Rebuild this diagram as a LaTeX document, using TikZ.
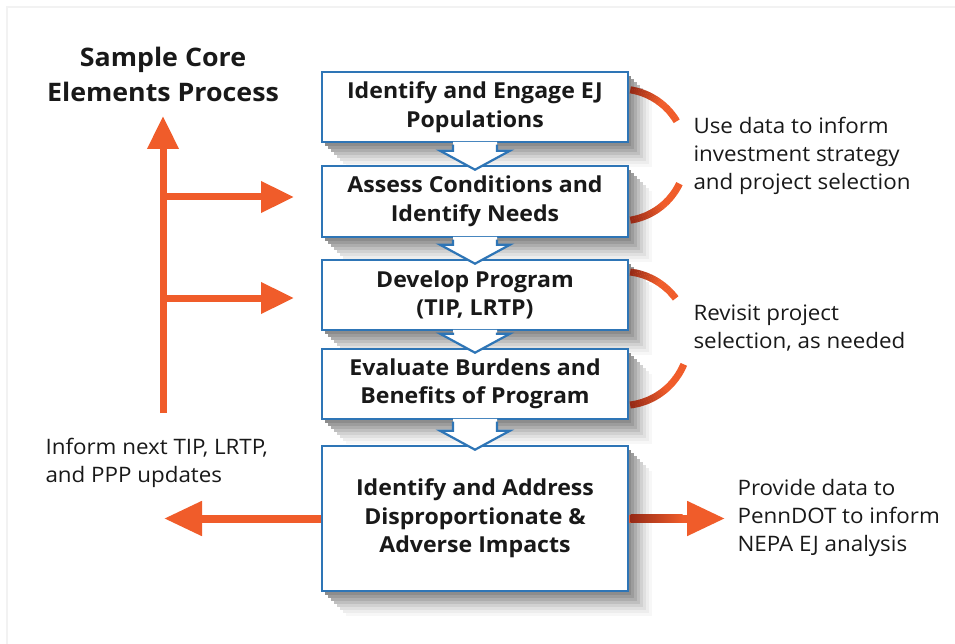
\documentclass[tikz,border=0pt]{standalone}
\usepackage{fontspec}
\setmainfont{Open Sans}[FakeStretch=1.05]
\usetikzlibrary{arrows.meta,shadows}
\definecolor{bblue}{RGB}{46,117,182}
\definecolor{orng}{RGB}{240,92,42}
\definecolor{dred}{RGB}{150,42,22}
\definecolor{txt}{RGB}{25,25,25}
\newcommand{\blockarrow}[2]{%
  \fill[white] ([xshift=-22pt,yshift=1.5pt]#1.south) -- ([xshift=-22pt,yshift=14pt]#2.north) -- ([xshift=-35pt,yshift=14pt]#2.north) -- ([yshift=-5pt]#2.north) -- ([xshift=35pt,yshift=14pt]#2.north) -- ([xshift=22pt,yshift=14pt]#2.north) -- ([xshift=22pt,yshift=1.5pt]#1.south) -- cycle;
  \draw[bblue, line width=2.2pt, line join=miter] ([xshift=-22pt,yshift=-1.3pt]#1.south) -- ([xshift=-22pt,yshift=14pt]#2.north) -- ([xshift=-35pt,yshift=14pt]#2.north) -- ([yshift=-5pt]#2.north) -- ([xshift=35pt,yshift=14pt]#2.north) -- ([xshift=22pt,yshift=14pt]#2.north) -- ([xshift=22pt,yshift=-1.3pt]#1.south);}
\newcommand{\gradarc}[5]{% cx cy r a0(dark) a1(orange)
  \foreach \i in {0,...,29}{%
    \pgfmathsetmacro\aA{#4+(#5-#4)*\i/30}%
    \pgfmathsetmacro\aB{#4+(#5-#4)*(\i+1.15)/30}%
    \pgfmathtruncatemacro\pp{min(100,100*\i/17)}%
    \draw[color=orng!\pp!dred, line width=7pt] ({#1+#3*cos(\aA)},{#2-#3*sin(\aA)}) arc[start angle=-\aA, end angle=-\aB, radius=#3];}}
\tikzset{
  softshadow/.style={
    drop shadow={shadow xshift=24pt, shadow yshift=-25pt, opacity=1, fill=black!3, draw=none},
    drop shadow={shadow xshift=21pt, shadow yshift=-22pt, opacity=1, fill=black!7, draw=none},
    drop shadow={shadow xshift=18pt, shadow yshift=-19pt, opacity=1, fill=black!12, draw=none},
    drop shadow={shadow xshift=15pt, shadow yshift=-16pt, opacity=1, fill=black!18, draw=none},
    drop shadow={shadow xshift=12pt, shadow yshift=-13pt, opacity=1, fill=black!25, draw=none},
    drop shadow={shadow xshift=9pt, shadow yshift=-10pt, opacity=1, fill=black!32, draw=none},
    drop shadow={shadow xshift=6pt, shadow yshift=-7pt, opacity=1, fill=black!39, draw=none},
    drop shadow={shadow xshift=3pt, shadow yshift=-4pt, opacity=1, fill=black!45, draw=none}}}
\begin{document}
\begin{tikzpicture}[x=1pt,y=-1pt,
  box/.style={draw=bblue, line width=2.6pt, fill=white, minimum width=306pt, align=center,
    font=\bfseries\fontsize{22}{28.5}\selectfont, text=txt, softshadow},
  oarrow/.style={draw=orng, line width=7pt, -{Triangle[length=33pt,width=30pt]}},
  barrow/.style={draw=orng, line width=8pt, -{Triangle[length=38pt,width=33pt]}},
  note/.style={align=left, anchor=west, text=txt, font=\fontsize{21.3}{28.3}\selectfont}]
\useasboundingbox (0,0) rectangle (955,644);
\fill[white] (0,0) rectangle (955,644);
\draw[gray!10, line width=1.2pt] (7,7) rectangle (975,664);

% title
\node[align=center, text=txt, font=\bfseries\fontsize{25.5}{35}\selectfont] (title) at (163,74) {Sample Core\\Elements Process};

% boxes
\node[box, minimum height=70pt] (b1) at (475,107) {Identify and Engage EJ\\Populations};
\node[box, minimum height=71pt] (b2) at (475,201.5) {Assess Conditions and\\Identify Needs};
\node[box, minimum height=70pt] (b3) at (475,295) {Develop Program\\(TIP, LRTP)};
\node[box, minimum height=70pt] (b4) at (475,384) {Evaluate Burdens and\\Benefits of Program};
\node[box, minimum height=145pt] (b5) at (475,518.5) {Identify and Address\\Disproportionate \&\\Adverse Impacts};

% block arrows
\blockarrow{b1}{b2}
\blockarrow{b2}{b3}
\blockarrow{b3}{b4}
\blockarrow{b4}{b5}

% left spine
\coordinate (spB) at (163,413);
\coordinate (spT) at (163,116);
\coordinate (h1s) at (163,197);
\coordinate (h1e) at (294,197);
\coordinate (h2s) at (163,298);
\coordinate (h2e) at (294,298);
\draw[oarrow] (spB) -- (spT);
\draw[oarrow] (h1s) -- (h1e);
\draw[oarrow] (h2s) -- (h2e);

% bottom arrows
\coordinate (lt) at (164,518.5);
\coordinate (rt) at (725,518.5);
\draw[barrow] (b5.west) -- (lt);
\draw[barrow] (b5.east) -- (rt);
\shade[left color=dred, right color=orng] ([xshift=1.3pt,yshift=4pt]b5.east) rectangle ++(52,8);

% arcs
\gradarc{620}{155}{66}{81}{31}
\gradarc{620}{155}{66}{-81}{-26}
\gradarc{622}{338.5}{67}{83}{37}
\gradarc{622}{338.5}{67}{-83}{-23}

% notes
\node[note] (n1) at (690,156) {Use data to inform\\investment strategy\\and project selection};
\node[note] (n2) at (690,328) {Revisit project\\selection, as needed};
\node[note] (n3) at (42,463) {Inform next TIP, LRTP,\\and PPP updates};
\node[note] (n4) at (734,518) {Provide data to\\PennDOT to inform\\NEPA EJ analysis};
\end{tikzpicture}
\end{document}
